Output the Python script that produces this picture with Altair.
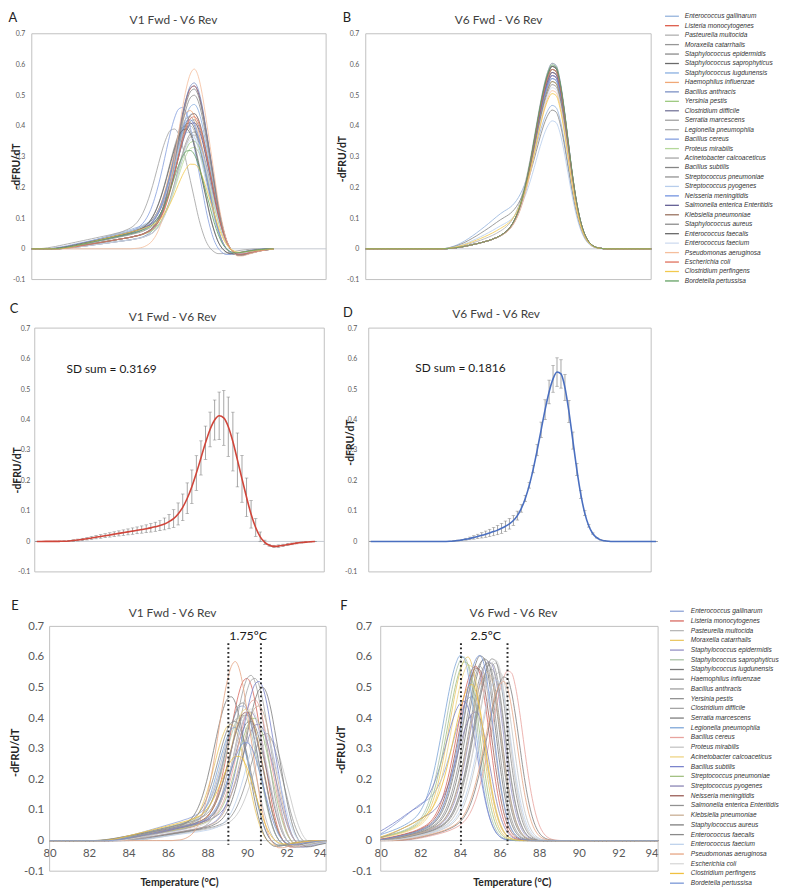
import altair as alt
import numpy as np
import pandas as pd

FONT = "Lato"
LEGEND_FONT = "Liberation Sans"

species = ["Enterococcus gallinarum", "Listeria monocytogenes", "Pasteurella multocida",
           "Moraxella catarrhalis", "Staphylococcus epidermidis", "Staphylococcus saprophyticus",
           "Staphylococcus lugdunensis", "Haemophilus influenzae", "Bacillus anthracis", "Yersinia pestis",
           "Clostridium difficile", "Serratia marcescens", "Legionella pneumophila", "Bacillus cereus",
           "Proteus mirabilis", "Acinetobacter calcoaceticus", "Bacillus subtilis", "Streptococcus pneumoniae",
           "Streptococcus pyogenes", "Neisseria meningitidis", "Salmonella enterica Enteritidis",
           "Klebsiella pneumoniae", "Staphylococcus aureus", "Enterococcus faecalis", "Enterococcus faecium",
           "Pseudomonas aeruginosa", "Escherichia coli", "Clostridium perfingens", "Bordetella pertussisa"]

colors_top = ["#95b3dc", "#dd5a48", "#b0b0b0", "#969696", "#8a8a8a", "#6a6a6a", "#88aee0", "#f0a877",
              "#7b90c4", "#9cc97e", "#76769a", "#a0a0a0", "#adadad", "#849fdf", "#b4d89a", "#a6a6a6",
              "#858585", "#929292", "#b7cdec", "#7393e0", "#625e94", "#9a7360", "#8b8b8b", "#676767",
              "#cfdcf0", "#f5be9c", "#e0705c", "#f2c94e", "#62a062"]
colors_bottom = ["#8ea3d6", "#d8685f", "#b8b8b8", "#eac764", "#9490c4", "#abc2a6", "#7a7a7a", "#8f8f8f",
                 "#a0a0a0", "#939393", "#a5a5a5", "#7e7e7e", "#7ea6d8", "#e8a39e", "#c4c4c4", "#efd584",
                 "#7b84cc", "#a3c183", "#8a84b4", "#9a5c56", "#929292", "#c9ae94", "#7d7d7d", "#8a8a8a",
                 "#bed2ec", "#e6a583", "#d8d8d8", "#f0c040", "#7896d6"]

# V1 Fwd - V6 Rev: peak height, shift of peak in panel A, Tm in panel E, low-temperature shoulder
v1_peak = [0.44, 0.53, 0.40, 0.38, 0.42, 0.41, 0.47, 0.45, 0.54, 0.35, 0.53, 0.39, 0.37, 0.46, 0.33,
           0.43, 0.52, 0.40, 0.38, 0.42, 0.41, 0.44, 0.50, 0.39, 0.36, 0.585, 0.43, 0.275, 0.32]
v1_shift_A = [0.0, 0.0, -0.2, 0.0, 0.0, -0.2, 0.0, -0.2, 0.0, 0.0, 0.0, -1.0, 0.0, -0.6, 0.0,
              -0.2, 0.0, -0.4, -0.2, -0.2, 0.0, 0.0, 0.0, -0.4, 0.0, 0.0, 0.0, 0.0, -0.2]
v1_tm_E = [89.8, 90.0, 89.6, 89.2, 90.2, 89.8, 89.2, 89.8, 90.2, 91.0, 90.4, 90.2, 89.4, 90.4, 91.2,
           90.0, 90.6, 90.4, 90.6, 90.0, 90.0, 90.6, 90.8, 89.4, 90.8, 89.4, 90.2, 89.6, 90.0]
v1_shoulder = [0.075, 0.045, 0.055, 0.035, 0.055, 0.065, 0.045, 0.055, 0.035, 0.045, 0.065, 0.055, 0.035,
               0.055, 0.045, 0.055, 0.045, 0.055, 0.065, 0.055, 0.065, 0.045, 0.045, 0.055, 0.035, 0.0,
               0.045, 0.065, 0.055]

# V6 Fwd - V6 Rev: peak height, Tm in panel F, shoulder
v6_peak = [0.47, 0.57, 0.58, 0.60, 0.59, 0.60, 0.61, 0.58, 0.56, 0.59, 0.57, 0.60, 0.61, 0.56, 0.55,
           0.58, 0.455, 0.59, 0.42, 0.57, 0.58, 0.55, 0.54, 0.60, 0.53, 0.52, 0.59, 0.51, 0.605]
v6_tm_F = [84.6, 84.8, 85.8, 84.4, 85.5, 84.2, 85.1, 85.4, 85.6, 85.2, 85.0, 85.3, 84.1, 86.5, 86.0,
           84.5, 84.2, 84.3, 84.8, 84.9, 85.6, 85.4, 86.3, 85.7, 85.9, 86.2, 85.8, 84.6, 85.0]
v6_shoulder = [0.11, 0.035, 0.035, 0.035, 0.035, 0.035, 0.035, 0.035, 0.035, 0.035, 0.035, 0.035, 0.05,
               0.035, 0.035, 0.035, 0.09, 0.035, 0.07, 0.035, 0.035, 0.035, 0.035, 0.035, 0.035, 0.035,
               0.035, 0.06, 0.035]

# curve shapes (0.2 degC steps, normalised)
v1_main_start = -3.2
v1_main = [0.0, 0.002, 0.004, 0.009, 0.019, 0.035, 0.063, 0.106, 0.170, 0.258, 0.369, 0.500, 0.642,
           0.780, 0.895, 0.973, 1.0, 0.96, 0.86, 0.72, 0.57, 0.42, 0.27, 0.15, 0.06, 0.005, -0.025,
           -0.04, -0.04, -0.035, -0.028, -0.022, -0.016, -0.011, -0.007, -0.004, -0.001, 0.0]
v1_sh_start = -7.0
v1_sh = [0.0, 0.01, 0.03, 0.06, 0.10, 0.14, 0.19, 0.24, 0.29, 0.34, 0.39, 0.44, 0.49, 0.54, 0.59, 0.64,
         0.69, 0.74, 0.79, 0.84, 0.89, 0.93, 0.97, 1.0, 1.0, 0.98, 0.95, 0.90, 0.83, 0.74, 0.63, 0.51,
         0.38, 0.25, 0.12, 0.0]
v6_main_start = -3.6
v6_main = [0.0, 0.001, 0.002, 0.005, 0.011, 0.020, 0.036, 0.061, 0.099, 0.154, 0.228, 0.322, 0.435,
           0.561, 0.691, 0.812, 0.912, 0.977, 1.0, 0.958, 0.841, 0.678, 0.501, 0.339, 0.211, 0.120,
           0.063, 0.030, 0.013, 0.005, 0.002, 0.0]
v6_sh_start = -5.6
v6_sh = [0.0, 0.02, 0.05, 0.09, 0.14, 0.20, 0.27, 0.35, 0.43, 0.52, 0.61, 0.70, 0.79, 0.88, 0.95, 1.0,
         1.0, 0.97, 0.92, 0.85, 0.76, 0.65, 0.53, 0.41, 0.30, 0.20, 0.11, 0.04, 0.0]

y_ticks = [-0.1, 0.0, 0.1, 0.2, 0.3, 0.4, 0.5, 0.6, 0.7]
x_ticks = [80, 82, 84, 86, 88, 90, 92, 94]
title_v1 = "V1 Fwd - V6 Rev"
title_v6 = "V6 Fwd - V6 Rev"
sd_v1 = "SD sum = 0.3169"
sd_v6 = "SD sum = 0.1816"
spread_v1 = [89.05, 90.7]
spread_v6 = [84.05, 86.4]


def build(grid, centers, peaks, shoulders, m_start, m_vals, s_start, s_vals):
    m_off = m_start + 0.2 * np.arange(len(m_vals))
    s_off = s_start + 0.2 * np.arange(len(s_vals))
    frames = []
    for name, c, p, s in zip(species, centers, peaks, shoulders):
        d = grid - c
        v = p * np.interp(d, m_off, m_vals, left=0, right=0) + s * np.interp(d, s_off, s_vals, left=0, right=0)
        frames.append(pd.DataFrame({"name": name, "T": np.round(grid, 2), "v": np.round(v, 4)}))
    return pd.concat(frames, ignore_index=True)


grid_A = np.round(81.5 + 0.2 * np.arange(62), 1)
grid_B = np.round(75.5 + 0.2 * np.arange(73), 1)
grid_EF = np.round(80.0 + 0.2 * np.arange(71), 1)

df_A = build(grid_A, [89.7 + s for s in v1_shift_A], v1_peak, v1_shoulder, v1_main_start, v1_main, v1_sh_start, v1_sh)
df_B = build(grid_B, [85.0] * 29, v6_peak, v6_shoulder, v6_main_start, v6_main, v6_sh_start, v6_sh)
df_E = build(grid_EF, v1_tm_E, v1_peak, v1_shoulder, v1_main_start, v1_main, v1_sh_start, v1_sh)
df_F = build(grid_EF, v6_tm_F, v6_peak, v6_shoulder, v6_main_start, v6_main, v6_sh_start, v6_sh)

LABEL_EXPR = "datum.value == 0 ? '0' : (datum.value < 0 ? '-' : '') + format(abs(datum.value), '.1f')"


def y_axis(size, pad, tsize, tx, ty, off):
    return alt.Axis(values=y_ticks, labelExpr=LABEL_EXPR, grid=False, ticks=False, domain=False,
                    offset=off, labelFont=FONT, labelFontSize=size, labelColor="#595959", labelPadding=pad,
                    title="-dFRU/dT", titleFont=FONT, titleFontSize=tsize, titleFontWeight="bold",
                    titleColor="#262626", titleX=tx, titleY=ty, titleBaseline="middle")


def x_axis(h):
    return alt.Axis(values=x_ticks, offset=-h / 8.0, grid=False, ticks=False, domain=False,
                    labelOverlap=False, labelFont=FONT, labelFontSize=11.5, labelColor="#595959",
                    labelPadding=7, title="Temperature (°C)", titleFont=FONT, titleFontSize=10.5,
                    titleFontWeight="bold", titleColor="#262626", titleY=42, titleBaseline="middle")


class Panel:
    def __init__(self, xdom, box, ydom, w, h, xax, yax):
        self.xs = alt.Scale(domain=xdom, nice=False, zero=False)
        self.ys = alt.Scale(domain=ydom, nice=False, zero=False)
        self.box = box
        self.w, self.h = w, h
        self.xax, self.yax = xax, yax

    def X(self, field=None, datum=None):
        if datum is not None:
            return alt.X(datum=datum, scale=self.xs, axis=self.xax)
        return alt.X(field, scale=self.xs, axis=self.xax)

    def Y(self, field=None, datum=None):
        if datum is not None:
            return alt.Y(datum=datum, scale=self.ys, axis=self.yax)
        return alt.Y(field, scale=self.ys, axis=self.yax)

    def frame(self):
        one = pd.DataFrame({"k": [0]})
        box = alt.Chart(one).mark_rect(fill="transparent", stroke="#c0c0c0", strokeWidth=1).encode(
            x=self.X(datum=self.box[0]), x2=alt.datum(self.box[1]),
            y=self.Y(datum=-0.1), y2=alt.datum(0.7))
        zero = alt.Chart(one).mark_rule(color="#c4c8d0", strokeWidth=1).encode(
            x=self.X(datum=self.box[0]), x2=alt.datum(self.box[1]), y=self.Y(datum=0.0))
        return [box, zero]

    def lines(self, df, colors):
        return alt.Chart(df).mark_line(strokeWidth=0.9, opacity=0.9, interpolate="monotone").encode(
            x=self.X("T:Q"), y=self.Y("v:Q"),
            color=alt.Color("name:N", scale=alt.Scale(domain=species, range=colors), legend=None),
            detail="name:N")

    def mean_sd(self, df, color):
        base = alt.Chart(df).transform_aggregate(
            m="mean(v)", sd="stdev(v)", groupby=["T"]).transform_calculate(
            lo="datum.m - datum.sd", hi="datum.m + datum.sd")
        err = base.mark_errorbar(color="#808080", thickness=0.7,
                                 ticks={"size": 3.5, "color": "#808080", "strokeWidth": 0.7}).encode(
            x=self.X("T:Q"), y=self.Y("lo:Q"), y2="hi:Q")
        line = base.mark_line(color=color, strokeWidth=1.6, interpolate="monotone").encode(
            x=self.X("T:Q"), y=self.Y("m:Q"))
        return [err, line]

    def text(self, label, x, y, size=12, align="left"):
        return alt.Chart(pd.DataFrame({"t": [label]})).mark_text(
            font=FONT, fontSize=size, color="#1a1a1a", align=align, baseline="middle").encode(
            x=self.X(datum=x), y=self.Y(datum=y), text="t:N")

    def spread(self, vals):
        return alt.Chart(pd.DataFrame({"T": vals})).mark_rule(
            color="#2a2a2a", strokeWidth=2, strokeDash=[1.8, 2.6]).encode(
            x=self.X("T:Q"), y=self.Y(datum=0.645), y2=alt.datum(-0.014))

    def label(self, text, dx, dy, size, color):
        return alt.Chart(pd.DataFrame({"t": [text]})).mark_text(
            font=FONT, fontSize=size, color=color, align="center", baseline="middle").encode(
            x=alt.value(dx), y=alt.value(dy), text="t:N")

    def make(self, layers, letter, lxy, title, txy):
        extra = [self.label(letter, lxy[0], lxy[1], 13, "#222222"),
                 self.label(title, txy[0], txy[1], 12, "#404040")]
        return alt.layer(*(layers + extra)).properties(width=self.w, height=self.h)


def legend_chart(colors, y0, step, h, rx, tx):
    d0 = -y0 / step
    d1 = d0 + h / step
    df = pd.DataFrame({"name": species, "idx": np.arange(len(species))})
    y = alt.Y("idx:Q", scale=alt.Scale(domain=[d0, d1], reverse=True, nice=False, zero=False), axis=None)
    col = alt.Color("name:N", scale=alt.Scale(domain=species, range=colors), legend=None)
    rules = alt.Chart(df).mark_rule(strokeWidth=1.3).encode(
        x=alt.value(rx), x2=alt.value(rx + 14), y=y, color=col)
    texts = alt.Chart(df).mark_text(align="left", baseline="middle", font=LEGEND_FONT, fontStyle="italic",
                                    fontSize=6.6, color="#333333").encode(x=alt.value(tx), y=y, text="name:N")
    return alt.layer(rules, texts).properties(width=60, height=h)


Y_LOW = -0.1 - 6 * 0.8 / 246.0

# ---- panel A
pA = Panel([81.5, 96.35], [81.5, 96.35], [-0.1, 0.7], 297, 248, None, y_axis(7, 7, 10.5, -15, 133.5, 0))
A = pA.make(pA.frame() + [pA.lines(df_A, colors_top)], "A", (-19, -15.5), title_v1, (143, -14))

# ---- panel B
pB = Panel([75.5, 89.9], [75.5, 89.9], [-0.1, 0.7], 288, 248, None, y_axis(7, 7, 10.5, -23.5, 126, 0))
B = pB.make(pB.frame() + [pB.lines(df_B, colors_top)], "B", (-19, -15.5), title_v6, (134, -14))

L1 = legend_chart(colors_top, -17.7, 9.54, 248, -33, -13)

# ---- panel C
pC = Panel([81.28, 94.19], [81.41, 94.11], [Y_LOW, 0.7], 297, 252, None, y_axis(7, 5, 10.5, -17, 143, -3))
C = pC.make(pC.frame() + pC.mean_sd(df_A, "#d0453a") + [pC.text(sd_v1, 82.8, 0.567)],
            "C", (-18, -19), title_v1, (142, -11))

# ---- panel D
pD = Panel([75.25, 89.65], [75.4, 89.65], [Y_LOW, 0.7], 288, 252, None, y_axis(7, 12, 10.5, -18.5, 115, -3))
D = pD.make(pD.frame() + pD.mean_sd(df_B, "#4a6fc0") + [pD.text(sd_v6, 77.75, 0.569)],
            "D", (-18, -15), title_v6, (131.5, -14))

# ---- panel E
pE = Panel([79.097, 94], [80, 94], [-0.1, 0.7], 297, 247, x_axis(247), y_axis(11.5, 6, 11, -34.5, 127, -18))
E = pE.make(pE.frame() + [pE.lines(df_E, colors_bottom), pE.spread(spread_v1), pE.text("1.75ºC", 89.1, 0.67, 12.5)],
            "E", (-17, -21), title_v1, (142, -13))

# ---- panel F
pF = Panel([79.245, 94], [80, 94], [-0.1, 0.7], 295, 247, x_axis(247), y_axis(11.5, 9, 11, -39.5, 124, -15))
F = pF.make(pF.frame() + [pF.lines(df_F, colors_bottom), pF.spread(spread_v6),
                          pF.text("2.5ºC", 85.3, 0.67, 12.5, "center")],
            "F", (-22, -21), title_v6, (149, -13))

L2 = legend_chart(colors_bottom, -15.3, 9.8, 247, -28, -7)

empty = alt.Chart(pd.DataFrame({"z": [0]})).mark_point(opacity=0).encode(
    x=alt.value(0), y=alt.value(0)).properties(width=1, height=1)

chart = alt.concat(A, B, L1, C, D, empty, E, F, L2, columns=3, bounds="flush",
                   spacing={"row": 49, "column": 40}).resolve_scale(
    x="independent", y="independent", color="independent").properties(padding=0).configure_view(stroke=None)

chart.save("out.html", embed_options={"renderer": "svg", "actions": False})
